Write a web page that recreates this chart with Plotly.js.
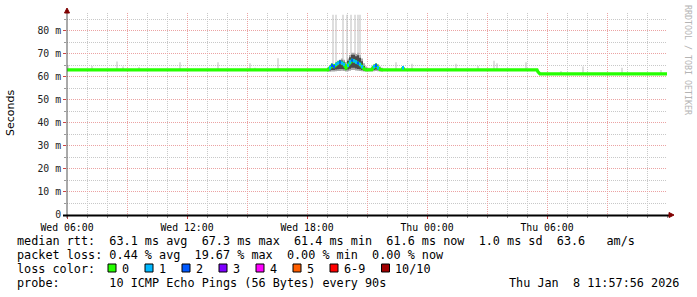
<!DOCTYPE html>
<html><head><meta charset="utf-8">
<script src="https://cdn.plot.ly/plotly-3.0.1.min.js"></script>
<style>html,body{margin:0;padding:0;background:#fff}#chart{width:697px;height:297px}</style>
</head><body><div id="chart"></div>
<script>
// ---------------- data ----------------
const tStart = '2026-01-07 06:00';
const tEnd = '2026-01-08 12:00';

// median rtt (ms) outside the disturbance
const medBeforeTimes = ['2026-01-07 06:00'];
const medBeforeValues = [63.1];
const medAfterTimes = ['2026-01-07 21:51', '2026-01-07 22:45', '2026-01-07 22:48', '2026-01-07 22:51',
  '2026-01-08 05:30', '2026-01-08 05:33', '2026-01-08 05:39', '2026-01-08 12:00'];
const medAfterValues = [63.1, 63.1, 64.0, 63.1, 63.1, 62.2, 61.3, 61.3];

// evening disturbance, 6-minute bins
const distTimes = ['2026-01-07 19:03','2026-01-07 19:09','2026-01-07 19:15','2026-01-07 19:21','2026-01-07 19:27',
  '2026-01-07 19:33','2026-01-07 19:39','2026-01-07 19:45','2026-01-07 19:51','2026-01-07 19:57',
  '2026-01-07 20:03','2026-01-07 20:09','2026-01-07 20:15','2026-01-07 20:21','2026-01-07 20:27',
  '2026-01-07 20:33','2026-01-07 20:39','2026-01-07 20:45','2026-01-07 20:51','2026-01-07 20:57',
  '2026-01-07 21:03','2026-01-07 21:09','2026-01-07 21:15','2026-01-07 21:21','2026-01-07 21:27',
  '2026-01-07 21:33','2026-01-07 21:39','2026-01-07 21:45'];
const distMedian = [63.1,64.0,65.0,64.5,65.5,66.0,66.5,66.0,65.5,64.0,65.0,66.5,67.3,67.0,66.5,66.0,65.5,64.5,63.5,63.1,63.1,63.1,63.2,64.5,65.0,64.0,63.3,63.1];
const distLoss = [0,1,2,2,1,1,2,1,1,0,1,1,2,1,1,2,1,1,0,0,0,0,0,1,2,1,0,0];
const smokeLow = [62.4,62.3,62.4,62.4,62.5,62.6,62.6,62.7,62.6,62.4,62.5,62.7,63.0,63.0,62.8,62.7,62.6,62.5,62.4,62.4,62.4,62.4,62.4,62.5,62.6,62.5,62.4,62.4];
const smokeHigh = [64.0,65.0,66.0,65.5,66.5,67.0,67.5,68.0,67.5,66.5,68.0,69.5,70.5,70.5,70.0,70.5,69.5,68.0,66.0,64.5,64.0,64.0,64.5,65.5,66.0,65.5,64.5,64.0];
const coreLow = [62.7,62.8,63.0,63.0,63.2,63.4,63.5,63.5,63.3,63.0,63.2,63.6,64.0,64.0,63.7,63.5,63.3,63.0,62.8,62.7,62.7,62.7,62.8,63.0,63.2,63.0,62.8,62.7];
const coreHigh = [63.6,64.2,65.3,64.8,65.8,66.4,66.8,67.2,66.6,65.3,67.0,68.6,69.7,69.6,69.0,69.4,68.3,66.8,64.8,63.8,63.5,63.5,63.8,64.8,65.3,64.7,63.8,63.5];

// single lost-ping event after the disturbance
const extraLossTimes = ['2026-01-07 22:48'];
const extraLossMedian = [64.0];
const extraLoss = [1];

// max-ping spikes
const spikeTimes = ['2026-01-07 06:03','2026-01-07 07:15','2026-01-07 08:30','2026-01-07 08:48','2026-01-07 09:36',
  '2026-01-07 11:39','2026-01-07 13:33','2026-01-07 15:09','2026-01-07 15:24','2026-01-07 16:33',
  '2026-01-07 19:18','2026-01-07 19:27','2026-01-07 19:48','2026-01-07 20:00','2026-01-07 20:12',
  '2026-01-07 20:24','2026-01-07 20:33','2026-01-07 20:39','2026-01-07 22:27','2026-01-07 23:15',
  '2026-01-08 01:27','2026-01-08 02:33','2026-01-08 03:21','2026-01-08 03:30','2026-01-08 04:57',
  '2026-01-08 06:42','2026-01-08 07:48','2026-01-08 09:45','2026-01-08 11:42'];
const spikeMin = [63.1,63.1,63.1,63.1,63.1,63.1,63.1,63.1,63.1,63.1,
  65.0,65.5,66.0,65.0,67.0,67.0,66.0,65.5,63.1,63.1,
  63.1,63.1,63.1,63.1,63.1,61.3,61.3,61.3,61.3];
const spikeMax = [65.2,64.8,66.7,64.5,64.3,66.4,66.4,66.0,64.0,68.1,
  87,87,87,87,87,87,87,87,66.4,65.7,
  65.7,64.8,67.0,66.0,66.4,62.6,64.5,64.0,63.0];

// legend
const lossLabels = ['0','1','2','3','4','5','6-9','10/10'];
const lossColors = ['#26ff00','#00b8ff','#0059ff','#7e00ff','#ff00ff','#ff5e00','#ff0000','#a10000'];

const yTickVals = [0,10,20,30,40,50,60,70,80];
const yTickText = ['0','10 m','20 m','30 m','40 m','50 m','60 m','70 m','80 m'];
const yMinorVals = [5,15,25,35,45,55,65,75,85];
const xTickVals = ['2026-01-07 06:00','2026-01-07 09:00','2026-01-07 12:00','2026-01-07 15:00','2026-01-07 18:00',
  '2026-01-07 21:00','2026-01-08 00:00','2026-01-08 03:00','2026-01-08 06:00','2026-01-08 09:00','2026-01-08 12:00'];
const xTickText = ['Wed 06:00','','Wed 12:00','','Wed 18:00','','Thu 00:00','','Thu 06:00','',''];

const statLines = [
  'median rtt:  63.1 ms avg  67.3 ms max  61.4 ms min  61.6 ms now  1.0 ms sd  63.6   am/s',
  'packet loss: 0.44 % avg  19.67 % max  0.00 % min  0.00 % now',
  'loss color:',
  'probe:       10 ICMP Echo Pings (56 Bytes) every 90s'
];
const stampText = 'Thu Jan  8 11:57:56 2026';
const watermark = 'RRDTOOL / TOBI OETIKER';

// ---------------- drawing ----------------
const L = 67, R = 667, T = 13, B = 215;
const xp = px => (px - L) / (R - L);
const yp = py => (B - py) / (B - T);
const nb = s => s.replace(/ /g, '\u00a0');
const MIN = 60000;
const shiftT = (t, m) => new Date(Date.parse(t.replace(' ', 'T') + ':00Z') + m * MIN).toISOString().slice(0, 19).replace('T', ' ');

const medTimes = medBeforeTimes.concat(distTimes, medAfterTimes);
const medValues = medBeforeValues.concat(distMedian, medAfterValues);

// loss-coloured median segments, one trace per loss count
const segs = {};
const addSeg = (t, m, c) => {
  if (!segs[c]) segs[c] = {x: [], y: []};
  segs[c].x.push(shiftT(t, -3), shiftT(t, 3), null);
  segs[c].y.push(m, m, null);
};
distTimes.forEach((t, i) => { if (distLoss[i] > 0) addSeg(t, distMedian[i], distLoss[i]); });
extraLossTimes.forEach((t, i) => addSeg(t, extraLossMedian[i], extraLoss[i]));

const traces = [
  { type:'bar', x: distTimes, base: smokeLow, y: smokeHigh.map((h,i)=>h-smokeLow[i]), width: 6*MIN,
    marker:{color:'#a8a8a8', line:{width:0}}, hoverinfo:'skip' },
  { type:'bar', x: spikeTimes, base: spikeMin, y: spikeMax.map((h,i)=>h-spikeMin[i]), width: 3*MIN,
    marker:{color:'#bdbdbd', line:{width:0}}, hoverinfo:'skip' },
  { type:'bar', x: distTimes, base: coreLow, y: coreHigh.map((h,i)=>h-coreLow[i]), width: 6*MIN,
    marker:{color:'#4a4a4a', line:{width:0}}, hoverinfo:'skip' },
  { type:'scatter', mode:'lines', x: medTimes, y: medValues, line:{color:lossColors[0], width:3.3}, hoverinfo:'skip' }
];
Object.keys(segs).forEach(c => traces.push({
  type:'scatter', mode:'lines', x: segs[c].x, y: segs[c].y, connectgaps:false,
  line:{color: lossColors[c], width:3.3}, hoverinfo:'skip'
}));

const monoFont = 'DejaVu Sans Mono, monospace';
const annotations = [];
const lineY = [241, 255, 269, 283];
statLines.forEach((s, i) => annotations.push({
  xref:'paper', yref:'paper', x: xp(16), y: yp(lineY[i]), xanchor:'left', yanchor:'middle',
  text: nb(s), showarrow:false, borderpad:0, font:{family:monoFont, size:11.8, color:'#000'}
}));
annotations.push({ xref:'paper', yref:'paper', x: xp(680), y: yp(283), xanchor:'right', yanchor:'middle',
  text: nb(stampText), showarrow:false, borderpad:0, font:{family:monoFont, size:11.8, color:'#000'} });
annotations.push({ xref:'paper', yref:'paper', x: xp(10), y: yp(113), xanchor:'center', yanchor:'middle',
  text:'Seconds', textangle:-90, showarrow:false, borderpad:0, font:{family:'DejaVu Sans, sans-serif', size:11, color:'#000'} });
annotations.push({ xref:'paper', yref:'paper', x: xp(688), y: yp(60), xanchor:'center', yanchor:'middle',
  text: nb(watermark), textangle:90, showarrow:false, borderpad:0, font:{family:monoFont, size:8.3, color:'#b4b4b4'} });

const shapes = [];
const boxX = [108, 145, 182, 219, 256, 293, 330, 381.5];
lossLabels.forEach((lab, i) => {
  shapes.push({ type:'rect', xref:'paper', yref:'paper', x0: xp(boxX[i]), x1: xp(boxX[i]+8), y0: yp(272), y1: yp(264),
    fillcolor: lossColors[i], line:{color:'#000', width:1} });
  annotations.push({ xref:'paper', yref:'paper', x: xp(boxX[i]+12.5), y: yp(lineY[2]), xanchor:'left', yanchor:'middle',
    text: lab, showarrow:false, borderpad:0, font:{family:monoFont, size:11.8, color:'#000'} });
});
// axis lines and arrows
shapes.push({ type:'line', xref:'paper', yref:'paper', x0: xp(67), x1: xp(67), y0: yp(218), y1: yp(9), line:{color:'#555', width:1} });
shapes.push({ type:'line', xref:'paper', yref:'paper', x0: xp(63), x1: xp(670), y0: yp(215.5), y1: yp(215.5), line:{color:'#000', width:2} });
shapes.push({ type:'path', xref:'paper', yref:'paper', fillcolor:'#800000', line:{color:'#800000', width:1},
  path:`M ${xp(64.5)} ${yp(13)} L ${xp(69.5)} ${yp(13)} L ${xp(67)} ${yp(8)} Z` });
shapes.push({ type:'path', xref:'paper', yref:'paper', fillcolor:'#800000', line:{color:'#800000', width:1},
  path:`M ${xp(669)} ${yp(212.5)} L ${xp(669)} ${yp(217.5)} L ${xp(674)} ${yp(215)} Z` });

const gridGrey = '#c8c8c8', gridRed = '#eba3a3';
const xMinorVals = [];
for (let h = 0; h <= 30; h++) xMinorVals.push(shiftT(tStart, h * 60));

const layout = {
  width: 697, height: 297,
  margin: {l: L, r: 697 - R, t: T, b: 297 - B, pad: 0},
  paper_bgcolor: '#fff', plot_bgcolor: '#fff',
  showlegend: false, barmode: 'overlay',
  xaxis: {
    type:'date', range:[tStart, tEnd], tickmode:'array', tickvals: xTickVals, ticktext: xTickText,
    showgrid:true, gridcolor: gridRed, griddash:'1px,1px', gridwidth:1,
    ticks:'outside', ticklen:3, tickcolor:'#c44', tickwidth:1,
    minor:{ tickmode:'array', tickvals: xMinorVals, showgrid:true, gridcolor: gridGrey, griddash:'1px,1px', gridwidth:1,
      ticks:'outside', ticklen:2, tickcolor:'#999' },
    tickfont:{family: monoFont, size: 9.8, color:'#000'},
    showline:false, zeroline:false, fixedrange:true
  },
  yaxis: {
    range:[0, 87.8], tickmode:'array', tickvals: yTickVals, ticktext: yTickText,
    showgrid:true, gridcolor: gridRed, griddash:'1px,1px', gridwidth:1,
    ticks:'outside', ticklen:3, tickcolor:'#c44', tickwidth:1,
    minor:{ tickmode:'array', tickvals: yMinorVals, showgrid:true, gridcolor: gridGrey, griddash:'1px,1px', gridwidth:1,
      ticks:'outside', ticklen:2, tickcolor:'#999' },
    tickfont:{family: monoFont, size: 9.8, color:'#222'},
    showline:false, zeroline:false, fixedrange:true
  },
  annotations, shapes
};

Plotly.newPlot('chart', traces, layout, {displayModeBar:false, staticPlot:true});
</script></body></html>
